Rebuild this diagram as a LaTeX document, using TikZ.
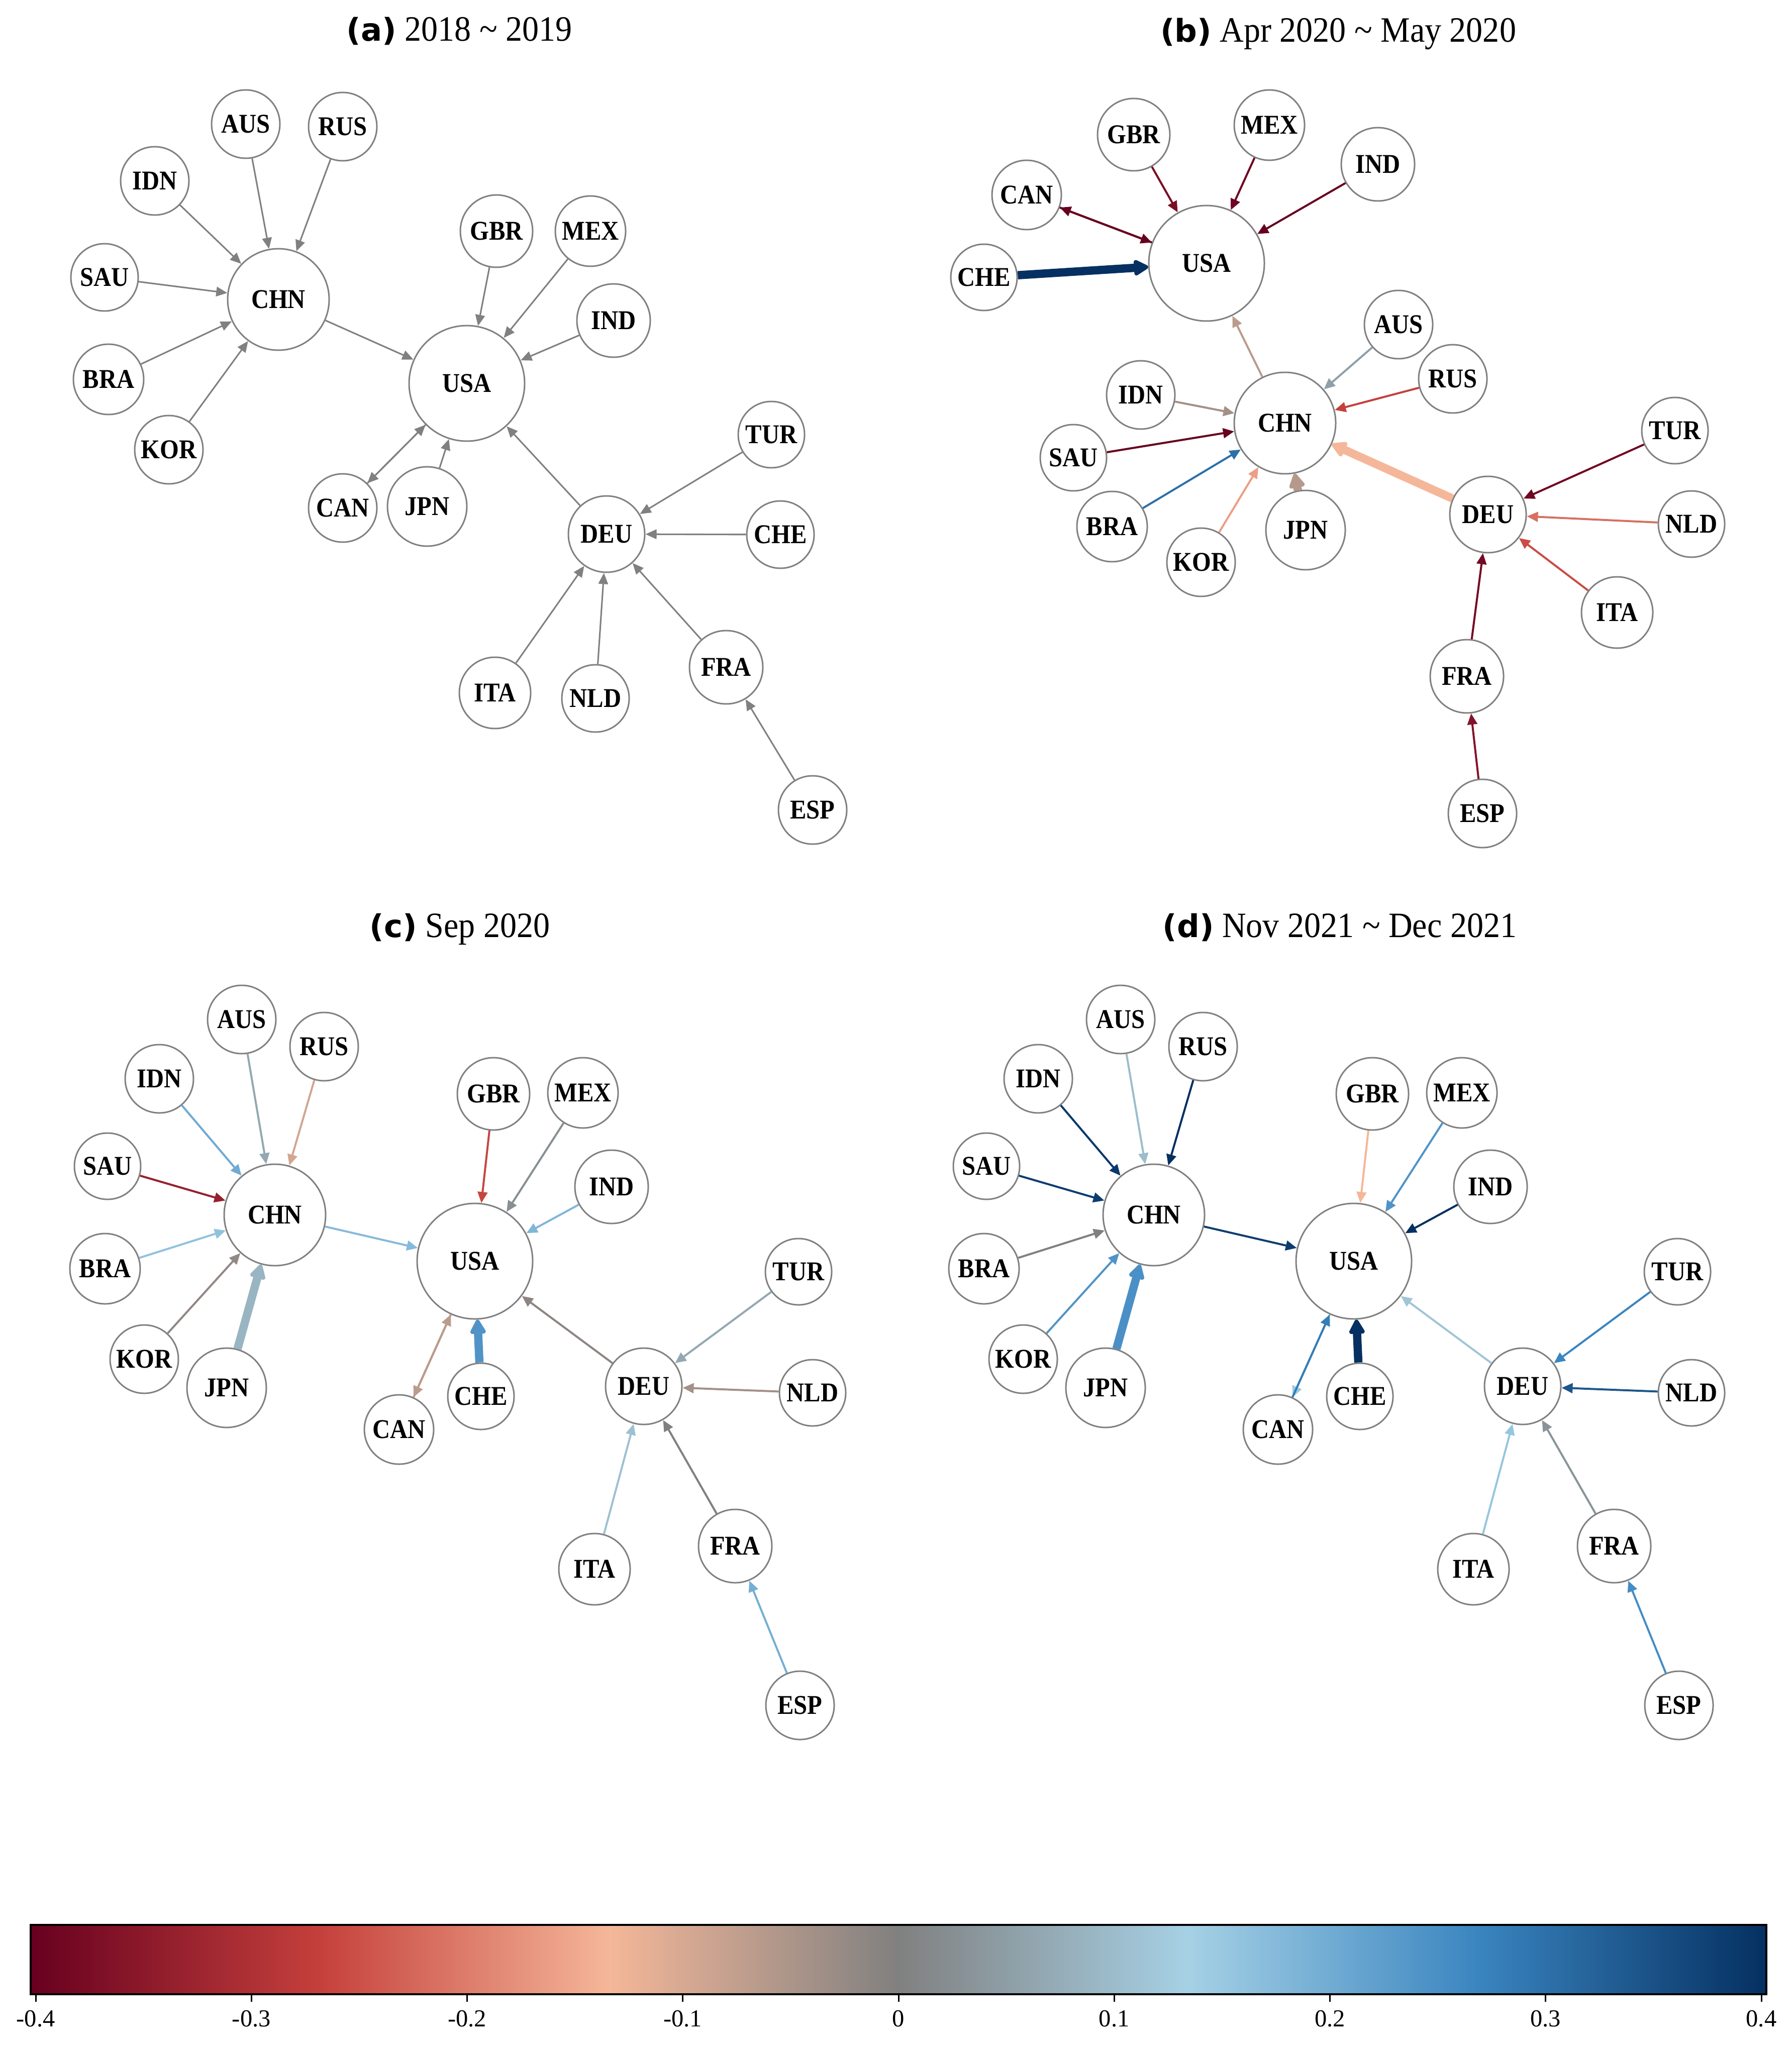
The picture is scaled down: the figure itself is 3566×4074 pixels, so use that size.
\documentclass[tikz,border=0pt]{standalone}
\usepackage{fontspec}
\setmainfont{Liberation Serif}
\newfontfamily\nodefont{Liberation Serif}[FakeStretch=0.9]
\newfontfamily\titlefont{Liberation Serif}[FakeStretch=0.93]
\newfontfamily\tagfont{DejaVu Sans}
\usetikzlibrary{arrows.meta}
\definecolor{cR0}{RGB}{103,0,31}
\definecolor{cR1}{RGB}{197,64,60}
\definecolor{cR2}{RGB}{245,183,153}
\definecolor{cG}{RGB}{128,128,128}
\definecolor{cB1}{RGB}{166,209,229}
\definecolor{cB2}{RGB}{58,133,192}
\definecolor{cB3}{RGB}{5,48,97}
\tikzset{
  nd/.style={circle,draw=cG,line width=0.6pt,fill=white,inner sep=0pt,
    minimum size=#1*0.4pt,font=\nodefont\fontsize{10.8}{12}\selectfont\bfseries},
  nd/.default=68,
  ed/.style={draw=#1,line width=0.8pt,-{Triangle[length=4.4pt,width=3.9pt]}},
  eda/.style={draw=#1,line width=0.62pt,-{Triangle[length=4.4pt,width=3.8pt]}},
  edt/.style={draw=#1,line width=3.3pt,-{Triangle[length=6.6pt,width=6.8pt,round]}},
  ttl/.style={anchor=base,inner sep=0pt},
  cblab/.style={anchor=base,inner sep=0pt,font=\fontsize{9.7}{11}\selectfont}
}
\newcommand\ptitle[2]{{\tagfont\bfseries\fontsize{12.5}{14}\selectfont(#1)}{\titlefont\fontsize{14.2}{16}\selectfont\ #2}}
\newcommand\netcd[1]{%
  \node[nd] (#1AUS) at (481,2029) {AUS};
  \node[nd] (#1RUS) at (645,2083) {RUS};
  \node[nd] (#1IDN) at (317,2147) {IDN};
  \node[nd=66] (#1SAU) at (214,2321) {SAU};
  \node[nd=101] (#1CHN) at (547,2418) {CHN};
  \node[nd=70] (#1BRA) at (209,2525) {BRA};
  \node[nd] (#1KOR) at (287,2705) {KOR};
  \node[nd=79] (#1JPN) at (451,2762) {JPN};
  \node[nd=72] (#1GBR) at (982,2177) {GBR};
  \node[nd=70] (#1MEX) at (1160,2175) {MEX};
  \node[nd=73] (#1IND) at (1217,2362) {IND};
  \node[nd=115] (#1USA) at (945,2510) {USA};
  \node[nd=69] (#1CAN) at (794,2845) {CAN};
  \node[nd=66] (#1CHE) at (957,2779) {CHE};
  \node[nd=66] (#1TUR) at (1589,2531) {TUR};
  \node[nd=76] (#1DEU) at (1281,2759) {DEU};
  \node[nd=66] (#1NLD) at (1617,2772) {NLD};
  \node[nd=71] (#1ITA) at (1183,3123) {ITA};
  \node[nd=73] (#1FRA) at (1463,3077) {FRA};
  \node[nd] (#1ESP) at (1592,3394) {ESP};
}
\begin{document}
\begin{tikzpicture}[x=0.2pt,y=-0.2pt]
\useasboundingbox (0,0) rectangle (3566,4074);
% titles
\node[ttl] (ta) at (914,82) {\ptitle{a}{2018 \textasciitilde{} 2019}};
\node[ttl] (tb) at (2663,84) {\ptitle{b}{Apr 2020 \textasciitilde{} May 2020}};
\node[ttl] (tc) at (915,1865) {\ptitle{c}{Sep 2020}};
\node[ttl] (td) at (2666,1865) {\ptitle{d}{Nov 2021 \textasciitilde{} Dec 2021}};
% ---------------- panel (a)
\node[nd] (aAUS) at (489,247) {AUS};
\node[nd] (aRUS) at (682,252) {RUS};
\node[nd] (aIDN) at (308,360) {IDN};
\node[nd=67] (aSAU) at (208,552) {SAU};
\node[nd=101] (aCHN) at (554,596) {CHN};
\node[nd=70] (aBRA) at (216,755) {BRA};
\node[nd] (aKOR) at (336,895) {KOR};
\node[nd=72] (aGBR) at (988,460) {GBR};
\node[nd=70] (aMEX) at (1175,460) {MEX};
\node[nd=73] (aIND) at (1221,638) {IND};
\node[nd=115] (aUSA) at (929,763) {USA};
\node[nd] (aCAN) at (682,1011) {CAN};
\node[nd=79] (aJPN) at (850,1008) {JPN};
\node[nd=66] (aTUR) at (1535,865) {TUR};
\node[nd=67] (aCHE) at (1553,1064) {CHE};
\node[nd=76] (aDEU) at (1207,1063) {DEU};
\node[nd=71] (aITA) at (985,1379) {ITA};
\node[nd=67] (aNLD) at (1185,1390) {NLD};
\node[nd=73] (aFRA) at (1445,1328) {FRA};
\node[nd] (aESP) at (1617,1612) {ESP};
\foreach \s in {AUS,RUS,IDN,SAU,BRA,KOR} \draw[eda=cG] (a\s) -- (aCHN);
\foreach \s in {CHN,GBR,MEX,IND,JPN,DEU} \draw[eda=cG] (a\s) -- (aUSA);
\draw[eda=cG] (aUSA) -- (aCAN);
\draw[eda=cG] (aCAN) -- (aUSA);
\foreach \s in {TUR,CHE,ITA,NLD,FRA} \draw[eda=cG] (a\s) -- (aDEU);
\draw[eda=cG] (aESP) -- (aFRA);
% ---------------- panel (b)
\node[nd=72] (bGBR) at (2256,268) {GBR};
\node[nd=70] (bMEX) at (2526,249) {MEX};
\node[nd=73] (bIND) at (2742,327) {IND};
\node[nd=69] (bCAN) at (2043,388) {CAN};
\node[nd=66] (bCHE) at (1958,552) {CHE};
\node[nd=115] (bUSA) at (2401,524) {USA};
\node[nd] (bAUS) at (2783,646) {AUS};
\node[nd] (bRUS) at (2891,754) {RUS};
\node[nd] (bIDN) at (2270,786) {IDN};
\node[nd=101] (bCHN) at (2557,842) {CHN};
\node[nd=66] (bSAU) at (2136,911) {SAU};
\node[nd=70] (bBRA) at (2213,1048) {BRA};
\node[nd] (bKOR) at (2390,1119) {KOR};
\node[nd=79] (bJPN) at (2598,1055) {JPN};
\node[nd=66] (bTUR) at (3333,857) {TUR};
\node[nd=76] (bDEU) at (2961,1024) {DEU};
\node[nd=66] (bNLD) at (3366,1043) {NLD};
\node[nd=71] (bITA) at (3218,1219) {ITA};
\node[nd=73] (bFRA) at (2919,1346) {FRA};
\node[nd] (bESP) at (2950,1619) {ESP};
\draw[ed=cR0!80!cR1] (bGBR) -- (bUSA);
\draw[ed=cR0!90!cR1] (bMEX) -- (bUSA);
\draw[ed=cR0] (bIND) -- (bUSA);
\draw[ed=cR0] (bUSA) -- (bCAN);
\draw[ed=cR0] (bCAN) -- (bUSA);
\draw[edt=cB3] (bCHE) -- (bUSA);
\draw[ed=cR2!50!cG] (bCHN) -- (bUSA);
\draw[ed=cG!60!cB1] (bAUS) -- (bCHN);
\draw[ed=cR1] (bRUS) -- (bCHN);
\draw[ed=cR2!30!cG] (bIDN) -- (bCHN);
\draw[ed=cR0] (bSAU) -- (bCHN);
\draw[ed=cB2!75!cB3] (bBRA) -- (bCHN);
\draw[ed=cR2!80!cR1] (bKOR) -- (bCHN);
\draw[edt=cR2!45!cG] (bJPN) -- (bCHN);
\draw[edt=cR2] (bDEU) -- (bCHN);
\draw[ed=cR0!90!cR1] (bTUR) -- (bDEU);
\draw[ed=cR1!60!cR2] (bNLD) -- (bDEU);
\draw[ed=cR1!90!cR2] (bITA) -- (bDEU);
\draw[ed=cR0!85!cR1] (bFRA) -- (bDEU);
\draw[ed=cR0!70!cR1] (bESP) -- (bFRA);
% ---------------- panel (c)
\netcd{c}
\draw[ed=cB1!50!cB2] (cIDN) -- (cCHN);
\draw[ed=cG!50!cB1] (cAUS) -- (cCHN);
\draw[ed=cR2!70!cG] (cRUS) -- (cCHN);
\draw[ed=cR0!50!cR1] (cSAU) -- (cCHN);
\draw[ed=cB1!80!cB2] (cBRA) -- (cCHN);
\draw[ed=cR2!15!cG] (cKOR) -- (cCHN);
\draw[edt=cB1!65!cG] (cJPN) -- (cCHN);
\draw[ed=cB1!70!cB2] (cCHN) -- (cUSA);
\draw[ed=cR1!95!cR2] (cGBR) -- (cUSA);
\draw[ed=cG!80!cB1] (cMEX) -- (cUSA);
\draw[ed=cB1!65!cB2] (cIND) -- (cUSA);
\draw[ed=cR2!50!cG] (cUSA) -- (cCAN);
\draw[ed=cR2!50!cG] (cCAN) -- (cUSA);
\draw[edt=cB2!80!cB1] (cCHE) -- (cUSA);
\draw[ed=cR2!10!cG] (cDEU) -- (cUSA);
\draw[ed=cG!50!cB1] (cTUR) -- (cDEU);
\draw[ed=cR2!30!cG] (cNLD) -- (cDEU);
\draw[ed=cB1!80!cG] (cITA) -- (cDEU);
\draw[ed=cG] (cFRA) -- (cDEU);
\draw[ed=cB1!55!cB2] (cESP) -- (cFRA);
% ---------------- panel (d)
\begin{scope}[shift={(1749,0)}]
\netcd{d}
\end{scope}
\draw[ed=cB3!90!cB2] (dIDN) -- (dCHN);
\draw[ed=cB1!75!cG] (dAUS) -- (dCHN);
\draw[ed=cB3] (dRUS) -- (dCHN);
\draw[ed=cB3!85!cB2] (dSAU) -- (dCHN);
\draw[ed=cG] (dBRA) -- (dCHN);
\draw[ed=cB2!80!cB1] (dKOR) -- (dCHN);
\draw[edt=cB2!85!cB1] (dJPN) -- (dCHN);
\draw[ed=cB3!85!cB2] (dCHN) -- (dUSA);
\draw[ed=cR2] (dGBR) -- (dUSA);
\draw[ed=cB2!80!cB1] (dMEX) -- (dUSA);
\draw[ed=cB3] (dIND) -- (dUSA);
\draw[ed=cB1!90!cB2] (dUSA) -- (dCAN);
\draw[ed=cB2!90!cB3] (dCAN) -- (dUSA);
\draw[edt=cB3] (dCHE) -- (dUSA);
\draw[ed=cB1!85!cG] (dDEU) -- (dUSA);
\draw[ed=cB2] (dTUR) -- (dDEU);
\draw[ed=cB2!45!cB3] (dNLD) -- (dDEU);
\draw[ed=cB1!85!cB2] (dITA) -- (dDEU);
\draw[ed=cG!75!cB1] (dFRA) -- (dDEU);
\draw[ed=cB2!90!cB1] (dESP) -- (dFRA);
% ---------------- colorbar
\shade[left color=cR0,right color=cR1] (61,3831) rectangle (637.7,3969);
\shade[left color=cR1,right color=cR2] (636.7,3831) rectangle (1213.3,3969);
\shade[left color=cR2,right color=cG] (1212.3,3831) rectangle (1789,3969);
\shade[left color=cG,right color=cB1] (1788,3831) rectangle (2364.7,3969);
\shade[left color=cB1,right color=cB2] (2363.7,3831) rectangle (2940.3,3969);
\shade[left color=cB2,right color=cB3] (2939.3,3831) rectangle (3515,3969);
\draw[line width=0.8pt] (61,3831) rectangle (3515,3969);
\foreach \v [count=\i from 0] in {-0.4,-0.3,-0.2,-0.1,0,0.1,0.2,0.3,0.4} {
  \draw[line width=0.6pt] (71+\i*429.25,3969) -- (71+\i*429.25,3984);
  \node[cblab] (cb\i) at (71+\i*429.25,4033) {\v};
}
\end{tikzpicture}
\end{document}
